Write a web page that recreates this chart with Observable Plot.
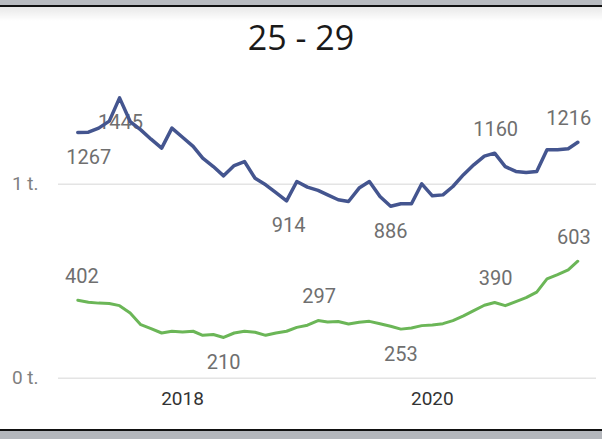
<!DOCTYPE html>
<html><head><meta charset="utf-8">
<script src="https://cdn.jsdelivr.net/npm/d3@7"></script>
<script src="https://cdn.jsdelivr.net/npm/@observablehq/plot@0.6"></script>
<style>
html,body{margin:0;padding:0;background:#fff;}
#wrap{position:relative;width:602px;height:439px;overflow:hidden;background:#fff;}
#topband{position:absolute;left:0;top:0;width:602px;height:5px;background:#b8bbc0;}
#topline{position:absolute;left:0;top:5px;width:602px;height:2px;background:#111;}
#shadow{position:absolute;left:0;top:7px;width:602px;height:14px;background:linear-gradient(rgba(0,0,0,0.09),rgba(0,0,0,0));}
#botline{position:absolute;left:0;top:429px;width:602px;height:2px;background:#111;}
#botband{position:absolute;left:0;top:431px;width:602px;height:8px;background:#b4b7bc;}
#title{position:absolute;left:0;top:14px;width:602px;text-align:center;font:34px "Open Sans";color:#1a1a1a;line-height:46px;}
#chart{position:absolute;left:0;top:60px;}
</style></head><body>
<div id="wrap">
  <div id="topband"></div><div id="topline"></div><div id="shadow"></div>
  <div id="title">25 - 29</div>
  <div id="chart"></div>
  <div id="botline"></div><div id="botband"></div>
</div>
<script>
// ---- data ----
const startMonth = "2017-03-01";
const monthCount = 49;
const blueValues = [1267,1268,1289,1325,1445,1323,1280,1232,1186,1289,1242,1195,1134,1091,1043,1096,1117,1031,997,957,914,1014,985,968,945,920,911,980,1014,937,886,899,899,1002,940,945,988,1049,1100,1145,1160,1091,1066,1060,1066,1177,1177,1183,1216];
const greenValues = [402,392,387,385,374,336,276,256,233,242,238,242,221,225,210,233,242,237,221,233,242,262,273,297,290,292,279,288,293,281,268,253,259,271,274,281,297,321,348,376,390,374,395,415,444,512,534,558,603];
const blueLabelIdx = [0,4,20,30,40,48];
const greenLabelIdx = [0,14,23,31,40,48];
const yTicks = [0, 1000];
const yTickLabels = ["0 t.", "1 t."];
const xTicks = ["2018-01-01", "2020-01-01"];
const xTickLabels = ["2018", "2020"];

// ---- build ----
const months = d3.utcMonth.range(new Date(startMonth), d3.utcMonth.offset(new Date(startMonth), monthCount));
const blue = months.map((d,i)=>({date:d, value:blueValues[i], i}));
const green = months.map((d,i)=>({date:d, value:greenValues[i], i}));
const xTickDates = xTicks.map(d=>new Date(d));

// label placement (style): above/below and edge nudges
const place = {
  blue: {0:["below",11],4:["below",1],20:["below",2],30:["below",0],40:["below",0],48:["above",-9]},
  green:{0:["above",4],14:["below",0],23:["above",1],31:["below",0],40:["above",1],48:["above",-4]}
};
place.blue[40] = ["above",1];
const labelRows = [];
blueLabelIdx.forEach(i=>labelRows.push({...blue[i], pos:place.blue[i][0], dx:place.blue[i][1]}));
greenLabelIdx.forEach(i=>labelRows.push({...green[i], pos:place.green[i][0], dx:place.green[i][1]}));
const groups = d3.groups(labelRows, d=>d.pos+"|"+d.dx);
const labelMarks = groups.map(([k,rows])=>{
  const [pos,dx] = k.split("|");
  return Plot.text(rows,{x:"date",y:"value",text:d=>String(d.value),dx:+dx,dy:pos==="above"?-24:25,
    fontSize:20,fill:"#6f6f6f",fontFamily:"Roboto"});
});

const chart = Plot.plot({
  width:602, height:379,
  marginLeft:58, marginRight:6, marginTop:0, marginBottom:61.3,
  style:{fontFamily:"Roboto", background:"transparent", overflow:"visible"},
  x:{type:"utc", domain:[months[0], months[months.length-1]], range:[77.3,577.3]},
  y:{domain:[0,1000], range:[317.7,123.7]},
  marks:[
    Plot.ruleY(yTicks,{stroke:"#e4e4e4", strokeWidth:1.5}),
    Plot.axisY(yTicks,{tickSize:0, tickPadding:20, tickFormat:d=>yTickLabels[yTicks.indexOf(d)], fontSize:19, fill:"#7f7f7f", label:null}),
    Plot.axisX(xTickDates,{tickSize:0, tickPadding:13, tickFormat:d=>xTickLabels[xTickDates.findIndex(t=>+t===+d)], fontSize:19, fill:"#333", label:null}),
    ...labelMarks,
    Plot.line(blue,{x:"date",y:"value",stroke:"#44558f",strokeWidth:3.5,strokeLinejoin:"round",strokeLinecap:"round"}),
    Plot.line(green,{x:"date",y:"value",stroke:"#6bb657",strokeWidth:3,strokeLinejoin:"round",strokeLinecap:"round"})
  ]
});
document.getElementById("chart").appendChild(chart);
</script>
</body></html>
